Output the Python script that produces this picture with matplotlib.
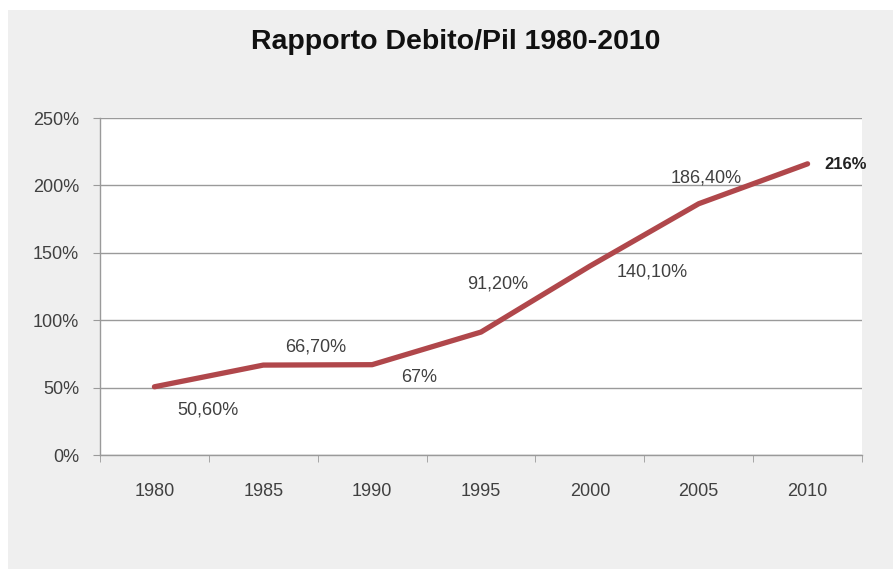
import numpy as np
import matplotlib.pyplot as plt
from matplotlib.patches import Rectangle
from matplotlib.ticker import FixedLocator, FuncFormatter

plt.rcParams['font.family'] = ['Liberation Sans', 'DejaVu Sans']

anni = ['1980', '1985', '1990', '1995', '2000', '2005', '2010']
rapporto = [50.6, 66.7, 67.0, 91.2, 140.1, 186.4, 216.0]
etichette = ['50,60%', '66,70%', '67%', '91,20%', '140,10%', '186,40%', '216%']
# spostamento delle etichette rispetto al punto (pixel)
offset = [(54, -23), (52, 18), (47, -13), (17, 48), (62, -6), (7, 26), (38, -1)]

fig = plt.figure(figsize=(8.93, 5.69), dpi=100)
fig.patch.set_facecolor('white')
fig.patches.append(Rectangle((8 / 893, 0), 1, 1 - 10 / 569, transform=fig.transFigure,
                             facecolor='#efefef', edgecolor='none', zorder=-10))

ax = fig.add_axes([100 / 893, 1 - 455 / 569, 762 / 893, 337 / 569])
ax.set_facecolor('white')

x = np.arange(len(anni))
ax.plot(x, rapporto, color='#b0474b', linewidth=3.8, solid_capstyle='round',
        solid_joinstyle='round', zorder=3)

for i, (val, lab) in enumerate(zip(rapporto, etichette)):
    bold = lab == '216%'
    ax.annotate(lab, (x[i], val), xytext=offset[i], textcoords='offset pixels',
                ha='center', va='center', fontsize=12 if bold else 13,
                fontweight='bold' if bold else 'normal',
                color='#222222' if bold else '#404040', zorder=4,
                annotation_clip=False)

ax.set_xlim(-0.5, len(anni) - 0.5)
ax.set_ylim(0, 250)
ax.set_yticks(np.arange(0, 251, 50))
ax.yaxis.set_major_formatter(FuncFormatter(lambda v, p: f'{int(v)}%'))
ax.set_xticks(x)
ax.set_xticklabels(anni)
ax.xaxis.set_minor_locator(FixedLocator(np.arange(-0.5, len(anni), 1.0)))

ax.grid(axis='y', color='#9a9a9a', linewidth=1.0)
ax.set_axisbelow(True)
for s in ['top', 'right']:
    ax.spines[s].set_visible(False)
for s in ['left', 'bottom']:
    ax.spines[s].set_color('#9a9a9a')
    ax.spines[s].set_linewidth(1.0)

ax.tick_params(axis='y', length=5, color='#9a9a9a', pad=10, labelsize=13,
               labelcolor='#404040')
ax.tick_params(axis='x', which='major', length=0, pad=20, labelsize=13,
               labelcolor='#404040')
ax.tick_params(axis='x', which='minor', length=5, color='#9a9a9a')

fig.text(456 / 893, 1 - 42 / 569, 'Rapporto Debito/Pil 1980-2010', ha='center', va='center',
         fontsize=20.5, fontweight='bold', color='#111111')

fig.savefig('out.png', dpi=100)
